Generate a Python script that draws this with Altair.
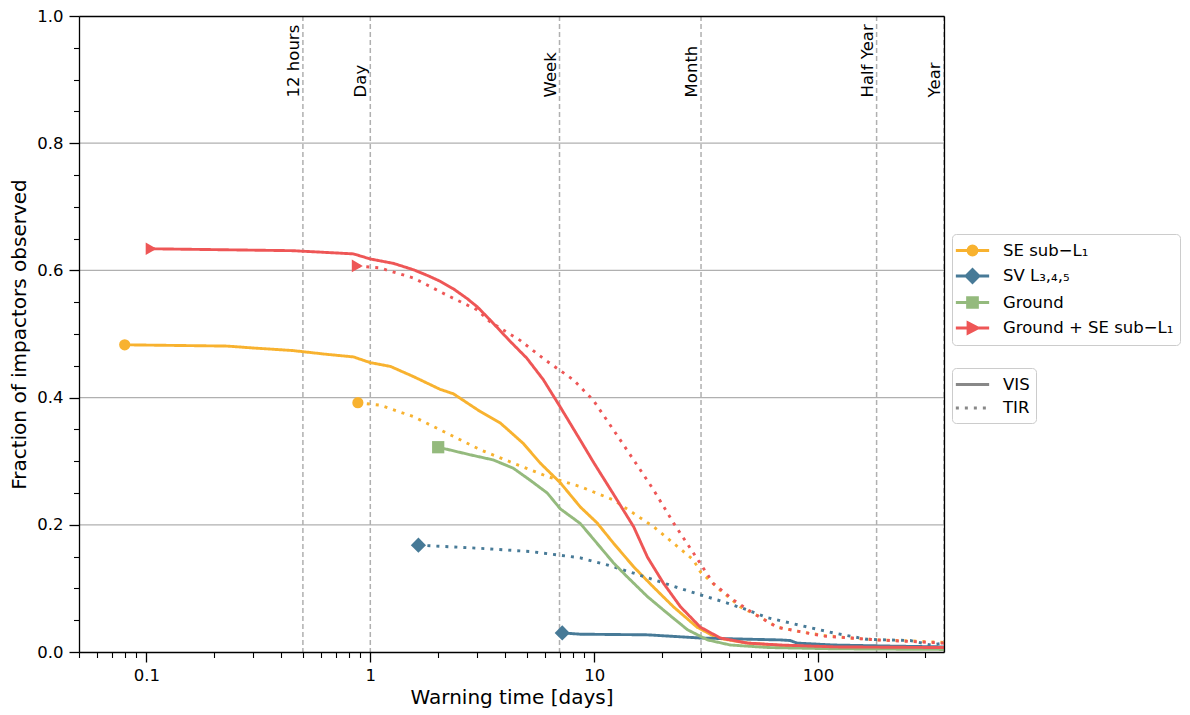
import altair as alt
import pandas as pd

# ---------------- data ----------------
SERIES = ["SE sub−L₁", "SV L₃,₄,₅", "Ground", "Ground + SE sub−L₁"]
COLORS = ["#f8b22f", "#477a97", "#94ba7d", "#ee5656"]
MARKER_SHAPES = ["circle", "diamond", "square", "triangle-right"]
MARKER_SIZES = [125, 230, 150, 160]
BANDS = ["VIS", "TIR"]

se_vis_days = [0.08, 0.23, 0.30, 0.45, 0.64, 0.84, 1.0, 1.23, 1.56, 2.05, 2.35, 3.1, 3.81, 4.82,
               5.74, 7.06, 8.67, 10.3, 12.2, 15.0, 18.4, 22.6, 28.8, 35.5, 48.4, 70, 120, 200, 365]
se_vis_frac = [0.483, 0.481, 0.478, 0.474, 0.468, 0.464, 0.455, 0.449, 0.433, 0.413, 0.406, 0.378,
               0.360, 0.328, 0.297, 0.266, 0.228, 0.203, 0.171, 0.134, 0.102, 0.071, 0.039, 0.022,
               0.014, 0.010, 0.008, 0.007, 0.006]

se_tir_days = [0.88, 1.11, 1.56, 2.2, 3.1, 4.35, 6.17, 8.67, 12.2, 15.0, 18.4, 22.6, 27.7, 29.8,
               36.6, 44.9, 55.1, 65.5, 83, 106, 139, 184, 277, 365]
se_tir_frac = [0.392, 0.388, 0.370, 0.344, 0.318, 0.297, 0.276, 0.260, 0.239, 0.218, 0.197, 0.171,
               0.145, 0.126, 0.097, 0.071, 0.055, 0.039, 0.032, 0.026, 0.022, 0.019, 0.017, 0.015]

sv_vis_days = [7.2, 8.67, 17.3, 29.8, 49.9, 67.8, 75, 80.6, 117, 195, 365]
sv_vis_frac = [0.030, 0.028, 0.027, 0.022, 0.020, 0.019, 0.018, 0.014, 0.011, 0.0095, 0.008]

sv_tir_days = [1.64, 3.1, 5.18, 7.06, 8.67, 11.4, 15.0, 19.8, 24.2, 29.8, 39.3, 48.4, 59.3, 83,
               117, 165, 258, 319, 365]
sv_tir_frac = [0.168, 0.163, 0.158, 0.152, 0.148, 0.137, 0.124, 0.110, 0.100, 0.090, 0.077, 0.066,
               0.054, 0.042, 0.030, 0.020, 0.018, 0.011, 0.014]

ground_vis_days = [2.01, 2.8, 3.54, 4.35, 5.18, 6.17, 7.06, 8.67, 9.9, 12.2, 14.06, 17.3, 21.2,
                   26.1, 32.1, 40.5, 60, 120, 365]
ground_vis_frac = [0.322, 0.310, 0.302, 0.289, 0.270, 0.250, 0.225, 0.202, 0.178, 0.140, 0.118,
                   0.087, 0.061, 0.035, 0.019, 0.011, 0.007, 0.005, 0.004]

comb_vis_days = [0.105, 0.45, 0.84, 1.0, 1.27, 1.56, 1.8, 2.05, 2.35, 2.7, 3.0, 3.43, 4.2, 5.0,
                 5.93, 7.06, 8.67, 9.9, 12.2, 15.0, 17.3, 20.4, 24.3, 29.8, 36.6, 48.4, 67.8,
                 120, 365]
comb_vis_frac = [0.634, 0.631, 0.626, 0.618, 0.611, 0.601, 0.592, 0.583, 0.571, 0.556, 0.543,
                 0.522, 0.489, 0.462, 0.428, 0.385, 0.333, 0.299, 0.248, 0.197, 0.149, 0.108,
                 0.071, 0.039, 0.022, 0.014, 0.011, 0.008, 0.007]

comb_tir_days = [0.875, 1.1, 1.56, 2.2, 3.0, 3.43, 4.67, 6.05, 8.07, 9.9, 12.2, 15.0, 18.4, 22.6,
                 27.7, 34.0, 41.8, 51.3, 65.5, 83, 106, 139, 184, 277, 365]
comb_tir_frac = [0.607, 0.604, 0.588, 0.561, 0.538, 0.519, 0.490, 0.459, 0.428, 0.396, 0.349,
                 0.302, 0.255, 0.203, 0.156, 0.108, 0.082, 0.061, 0.039, 0.032, 0.025, 0.022,
                 0.019, 0.016, 0.014]

ref_days = [0.5, 1, 7, 30, 182.5, 365]
ref_labels = ["12 hours", "Day", "Week", "Month", "Half Year", "Year"]

grid_vals = [0.2, 0.4, 0.6, 0.8]
y_major = [0.0, 0.2, 0.4, 0.6, 0.8, 1.0]
y_minor = [0.05, 0.1, 0.15, 0.25, 0.3, 0.35, 0.45, 0.5, 0.55, 0.65, 0.7, 0.75, 0.85, 0.9, 0.95]
x_major = [0.1, 1, 10, 100]
x_minor = [0.05, 0.06, 0.07, 0.08, 0.09, 0.2, 0.3, 0.4, 0.5, 0.6, 0.7, 0.8, 0.9,
           2, 3, 4, 5, 6, 7, 8, 9, 20, 30, 40, 50, 60, 70, 80, 90, 200, 300]

# ---------------- tables ----------------
curves = [
    (SERIES[0], "VIS", se_vis_days, se_vis_frac),
    (SERIES[0], "TIR", se_tir_days, se_tir_frac),
    (SERIES[1], "VIS", sv_vis_days, sv_vis_frac),
    (SERIES[1], "TIR", sv_tir_days, sv_tir_frac),
    (SERIES[2], "VIS", ground_vis_days, ground_vis_frac),
    (SERIES[3], "VIS", comb_vis_days, comb_vis_frac),
    (SERIES[3], "TIR", comb_tir_days, comb_tir_frac),
]
rows, starts = [], []
for i, (s, b, d, f) in enumerate(curves):
    key = f"{i} {s} {b}"
    for dd, ff in zip(d, f):
        rows.append({"series": s, "band": b, "key": key, "days": dd, "frac": ff})
    starts.append({"series": s, "band": b, "days": d[0], "frac": f[0]})
lines_df = pd.DataFrame(rows)
starts_df = pd.DataFrame(starts)
ref_df = pd.DataFrame({"days": ref_days, "label": ref_labels})
grid_df = pd.DataFrame({"frac": grid_vals})

FONT = "DejaVu Sans"
W, H = 865, 636

x_scale = alt.Scale(type="log", domain=[0.05, 365], nice=False)
y_scale = alt.Scale(domain=[0, 1], nice=False, zero=False)
# colour scale for the drawn marks (listed in reverse so it is not merged with
# the legend scales below, whose legend must stay visible)
color_scale = alt.Scale(domain=SERIES[::-1], range=COLORS[::-1])

legend_paths = [
    "M-1.85,0H1.85M0.5,0A0.5,0.5,0,1,1,-0.5,0A0.5,0.5,0,1,1,0.5,0Z",
    "M-1.85,0H1.85M0,-0.72L0.72,0L0,0.72L-0.72,0Z",
    "M-1.85,0H1.85M-0.55,-0.55H0.55V0.55H-0.55Z",
    "M-1.85,0H1.85M-0.5,-0.58L0.62,0L-0.5,0.58Z",
]

common_legend = dict(
    title=None, orient="none", legendX=873, direction="vertical",
    fillColor="white", strokeColor="#cccccc", cornerRadius=4, padding=6,
    labelFontSize=16.5, labelFont=FONT, labelColor="black", labelLimit=0,
    symbolSize=324, symbolStrokeWidth=2.8, symbolOffset=4, labelOffset=20,
    symbolOpacity=1,
)
series_legend = alt.Legend(legendY=218, rowPadding=2.5, **common_legend)
band_legend = alt.Legend(legendY=352, rowPadding=4.5, symbolType="M-1.85,0H1.85",
                         **common_legend)

spine = dict(ticks=False, labels=False, grid=False, domain=True, domainColor="black",
             domainWidth=1.3, title=None, zindex=2)
minor = dict(labels=False, tickSize=5.5, tickWidth=1.1, tickColor="black", domain=False,
             grid=False, title=None, zindex=1)

# horizontal grid lines (+ minor y ticks axis)
grid = alt.Chart(grid_df).mark_rule(color="#b0b0b0", strokeWidth=1.3).encode(
    y=alt.Y("frac:Q", scale=y_scale,
            axis=alt.Axis(orient="left", values=y_minor, **minor)),
)

# minor x ticks carrier (no visible marks)
minor_x = alt.Chart(ref_df).mark_rule(opacity=0).encode(
    x=alt.X("days:Q", scale=x_scale,
            axis=alt.Axis(orient="bottom", values=x_minor, **minor)),
)

ref_rules = alt.Chart(ref_df).mark_rule(color="#b0b0b0", strokeWidth=1.5,
                                        strokeDash=[5, 3]).encode(
    x=alt.X("days:Q", scale=x_scale, axis=alt.Axis(orient="top", **spine)),
)

ref_text = alt.Chart(ref_df).mark_text(angle=270, align="left", baseline="bottom",
                                       fontSize=16.5, font=FONT, color="black",
                                       dy=-1).encode(
    x=alt.X("days:Q", scale=x_scale, axis=None),
    y=alt.Y(datum=0.872, scale=y_scale, axis=alt.Axis(orient="right", **spine)),
    text="label:N",
)

lines = alt.Chart(lines_df).mark_line(strokeWidth=2.9, clip=True).encode(
    x=alt.X("days:Q", scale=x_scale,
            axis=alt.Axis(orient="bottom", values=x_major, format="~g", tickSize=10,
                          tickWidth=1.3, tickColor="black", domainColor="black",
                          domainWidth=1.3, labelFontSize=16.5, labelFont=FONT,
                          labelColor="black", labelPadding=5, grid=False, zindex=2,
                          title="Warning time [days]", titleFontSize=20, titleFont=FONT,
                          titleFontWeight="normal", titleColor="black", titlePadding=4)),
    y=alt.Y("frac:Q", scale=y_scale,
            axis=alt.Axis(orient="left", values=y_major, format=".1f", tickSize=10,
                          tickWidth=1.3, tickColor="black", domainColor="black",
                          domainWidth=1.3, labelFontSize=16.5, labelFont=FONT,
                          labelColor="black", labelPadding=6, grid=False, zindex=2,
                          title="Fraction of impactors observed", titleFontSize=20,
                          titleFont=FONT, titleFontWeight="normal", titleColor="black",
                          titlePadding=7)),
    color=alt.Color("series:N", scale=color_scale, legend=None),
    strokeDash=alt.StrokeDash("band:N",
                              scale=alt.Scale(domain=BANDS, range=[[1, 0], [3, 6]]),
                              legend=band_legend),
    detail="key:N",
)

# start markers: one layer per series, each with its own fixed shape
marker_layers = []
for s, shp, sz in zip(SERIES, MARKER_SHAPES, MARKER_SIZES):
    marker_layers.append(
        alt.Chart(starts_df).transform_filter(alt.datum.series == s)
        .mark_point(filled=True, opacity=1, shape=shp, size=sz, clip=True)
        .encode(
            x=alt.X("days:Q", scale=x_scale, axis=None),
            y=alt.Y("frac:Q", scale=y_scale, axis=None),
            color=alt.Color("series:N", scale=color_scale, legend=None),
        )
    )

# hidden carrier for the series legend (line + marker symbols)
legend_carrier = alt.Chart(starts_df).mark_point(opacity=1, strokeWidth=2.8,
                                                 clip=True).encode(
    x=alt.X(datum=0.01, scale=x_scale, axis=None),
    y=alt.Y("frac:Q", scale=y_scale, axis=None),
    fill=alt.Fill("series:N", scale=alt.Scale(domain=SERIES, range=COLORS),
                  legend=series_legend),
    stroke=alt.Stroke("series:N", scale=alt.Scale(domain=SERIES, range=COLORS),
                      legend=series_legend),
    shape=alt.Shape("series:N", scale=alt.Scale(domain=SERIES, range=legend_paths),
                    legend=series_legend),
)

chart = alt.layer(
    grid, minor_x, ref_rules, ref_text, lines, *marker_layers, legend_carrier
).resolve_axis(
    x="independent", y="independent"
).properties(
    width=W, height=H,
    padding={"left": 71, "top": 8, "right": 238, "bottom": 58},
    autosize=alt.AutoSizeParams(type="none"),
).configure_view(
    stroke="black", strokeWidth=1.3
).configure_legend(
    symbolBaseStrokeColor="#b0b0b0", symbolBaseFillColor="transparent"
).configure(
    font=FONT
)

chart.save("out.html", embed_options={"renderer": "svg", "actions": False})
